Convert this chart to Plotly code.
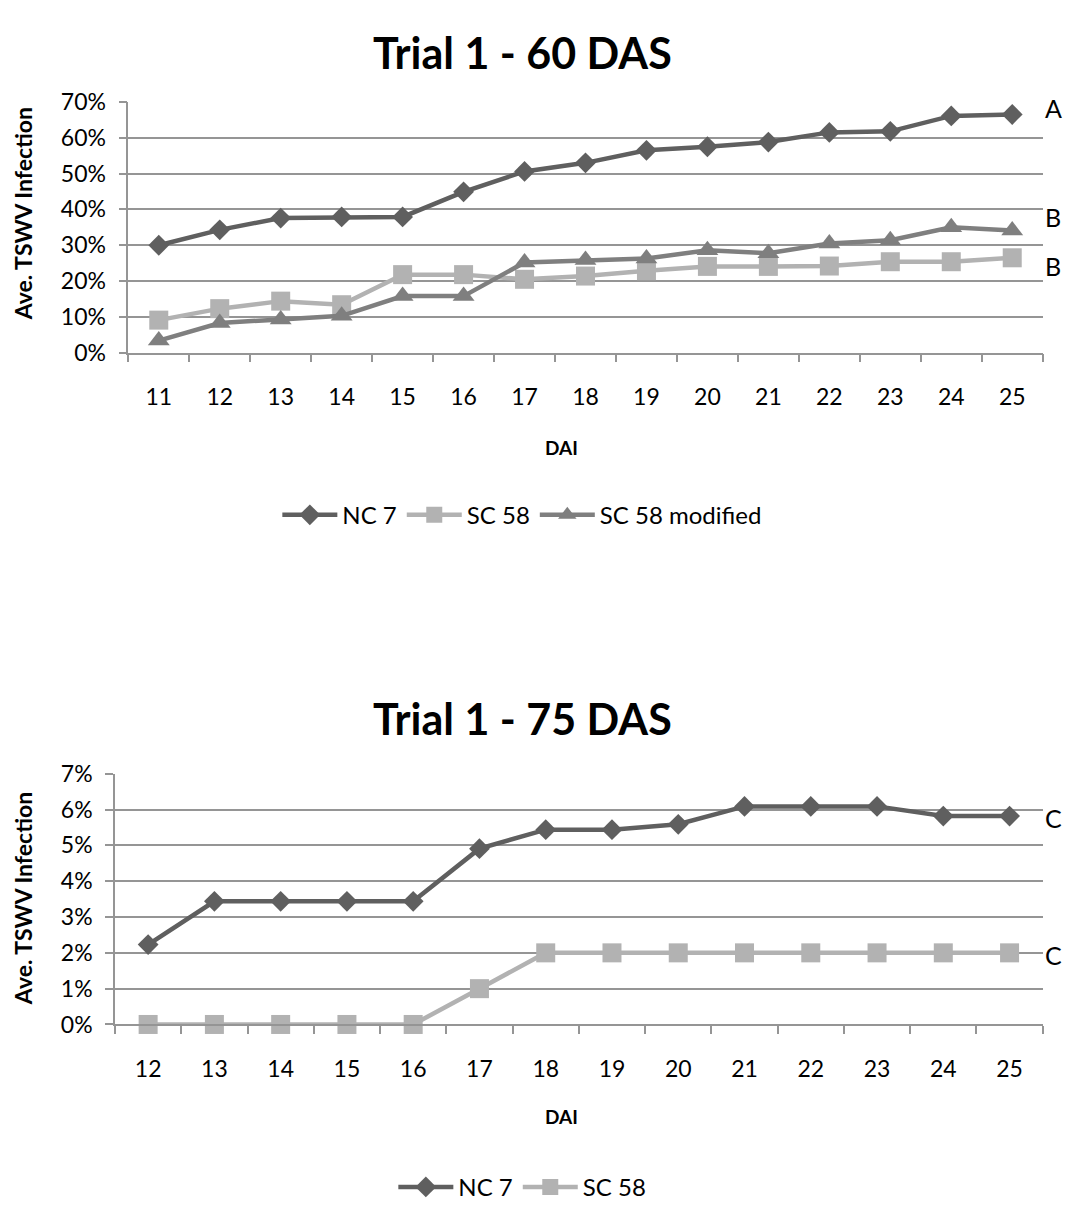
import plotly.graph_objects as go

# ---------------- data ----------------
days_60 = [str(d) for d in range(11, 26)]
nc7_60 = [30.0, 34.3, 37.6, 37.9, 37.9, 44.9, 50.6, 53.0, 56.5, 57.5, 58.8, 61.5, 61.8, 66.1, 66.5]
sc58_60 = [9.1, 12.3, 14.4, 13.4, 21.8, 21.8, 20.5, 21.4, 22.9, 24.1, 24.1, 24.2, 25.4, 25.4, 26.5]
sc58mod_60 = [3.4, 8.3, 9.3, 10.3, 15.8, 15.8, 25.2, 25.9, 26.3, 28.6, 27.8, 30.5, 31.4, 35.0, 34.1]

days_75 = [str(d) for d in range(12, 26)]
nc7_75 = [2.23, 3.44, 3.44, 3.44, 3.44, 4.91, 5.44, 5.44, 5.59, 6.09, 6.09, 6.09, 5.82, 5.82]
sc58_75 = [0, 0, 0, 0, 0, 1, 2, 2, 2, 2, 2, 2, 2, 2]

letters_60 = ["A", "B", "B"]
letters_60_y = [68.4, 37.8, 24.2]
letters_75 = ["C", "C"]
letters_75_y = [5.76, 1.94]

title_60 = "Trial 1 - 60 DAS"
title_75 = "Trial 1 - 75 DAS"
ytitle = "Ave. TSWV Infection"
xtitle = "DAI"

# ---------------- styling ----------------
FONT = "Lato"
C_NC7 = "#5f5f5f"
C_SC58 = "#b2b2b2"
C_MOD = "#7f7f7f"
GRID = "#959595"
W, H = 1066, 1214


def py(pix):
    return 1 - pix / H


def px(pix):
    return pix / W


fig = go.Figure()

# top chart
fig.add_trace(go.Scatter(x=days_60, y=[v / 100 for v in nc7_60], name="NC 7", mode="lines+markers",
                         line=dict(color=C_NC7, width=4.5), marker=dict(symbol="diamond", size=16, color=C_NC7),
                         xaxis="x", yaxis="y", legend="legend", cliponaxis=False))
fig.add_trace(go.Scatter(x=days_60, y=[v / 100 for v in sc58_60], name="SC 58", mode="lines+markers",
                         line=dict(color=C_SC58, width=4.5), marker=dict(symbol="square", size=19, color=C_SC58),
                         xaxis="x", yaxis="y", legend="legend", cliponaxis=False))
fig.add_trace(go.Scatter(x=days_60, y=[v / 100 for v in sc58mod_60], name="SC 58 modified", mode="lines+markers",
                         line=dict(color=C_MOD, width=4.5), marker=dict(symbol="triangle-up", size=19, color=C_MOD),
                         xaxis="x", yaxis="y", legend="legend", cliponaxis=False))

# bottom chart
fig.add_trace(go.Scatter(x=days_75, y=[v / 100 for v in nc7_75], name="NC 7", mode="lines+markers",
                         line=dict(color=C_NC7, width=4.5), marker=dict(symbol="diamond", size=16, color=C_NC7),
                         xaxis="x2", yaxis="y2", legend="legend2", cliponaxis=False))
fig.add_trace(go.Scatter(x=days_75, y=[v / 100 for v in sc58_75], name="SC 58", mode="lines+markers",
                         line=dict(color=C_SC58, width=4.5), marker=dict(symbol="square", size=19, color=C_SC58),
                         xaxis="x2", yaxis="y2", legend="legend2", cliponaxis=False))

xcommon = dict(type="category", tickson="boundaries", ticks="outside", ticklen=8, tickcolor=GRID, tickwidth=1.5,
               showline=True, linecolor=GRID, linewidth=1.5, showgrid=False, zeroline=False,
               tickfont=dict(family=FONT, size=23, color="black"), ticklabelstandoff=23, fixedrange=True)
ycommon = dict(ticks="outside", ticklen=8, tickcolor=GRID, tickwidth=1.5, showline=True, linecolor=GRID,
               linewidth=1.5, showgrid=True, gridcolor=GRID, gridwidth=1.5, zeroline=False,
               tickformat=".0%", tickfont=dict(family=FONT, size=23, color="black"), ticklabelstandoff=8,
               fixedrange=True)

fig.update_layout(
    width=W, height=H, margin=dict(l=0, r=0, t=0, b=0),
    paper_bgcolor="white", plot_bgcolor="white",
    xaxis=dict(domain=[px(128.3), px(1042.7)], anchor="y", range=[-0.5, len(days_60) - 0.5], **xcommon),
    yaxis=dict(domain=[py(345.7), py(89)], anchor="x", range=[0, 0.7], dtick=0.1, **ycommon),
    xaxis2=dict(domain=[px(115), px(1042.7)], anchor="y2", range=[-0.5, len(days_75) - 0.5], **xcommon),
    yaxis2=dict(domain=[py(1033.3), py(776.7)], anchor="x2", range=[0, 0.07], dtick=0.01, **ycommon),
    legend=dict(orientation="h", x=0.49, xanchor="center", y=py(512), yanchor="middle",
                font=dict(family=FONT, size=24, color="black"), itemwidth=55, bgcolor="rgba(0,0,0,0)"),
    legend2=dict(orientation="h", x=0.49, xanchor="center", y=py(1200), yanchor="middle",
                 font=dict(family=FONT, size=24, color="black"), itemwidth=55, bgcolor="rgba(0,0,0,0)"),
    showlegend=True,
)

ann = []
for t, yc in [(title_60, 38), (title_75, 720)]:
    ann.append(dict(text=f"<b>{t}</b>", x=px(522), y=py(yc), xref="paper", yref="paper", xanchor="center",
                    yanchor="middle", showarrow=False, font=dict(family=FONT, size=43, color="black")))
for yc in [204, 905]:
    ann.append(dict(text=f"<b>{ytitle}</b>", x=px(23), y=py(yc), xref="paper", yref="paper", xanchor="center",
                    yanchor="middle", textangle=-90, showarrow=False, font=dict(family=FONT, size=23, color="black")))
for yc in [443, 1128]:
    ann.append(dict(text=f"<b>{xtitle}</b>", x=px(561), y=py(yc), xref="paper", yref="paper", xanchor="center",
                    yanchor="middle", showarrow=False, font=dict(family=FONT, size=19, color="black")))
for lt, ly in zip(letters_60, letters_60_y):
    ann.append(dict(text=lt, x=px(1043), y=ly / 100, xref="paper", yref="y", xanchor="left", yanchor="middle",
                    showarrow=False, font=dict(family=FONT, size=25, color="black")))
for lt, ly in zip(letters_75, letters_75_y):
    ann.append(dict(text=lt, x=px(1043), y=ly / 100, xref="paper", yref="y2", xanchor="left", yanchor="middle",
                    showarrow=False, font=dict(family=FONT, size=25, color="black")))
fig.update_layout(annotations=ann)

fig.write_html("out.html")
